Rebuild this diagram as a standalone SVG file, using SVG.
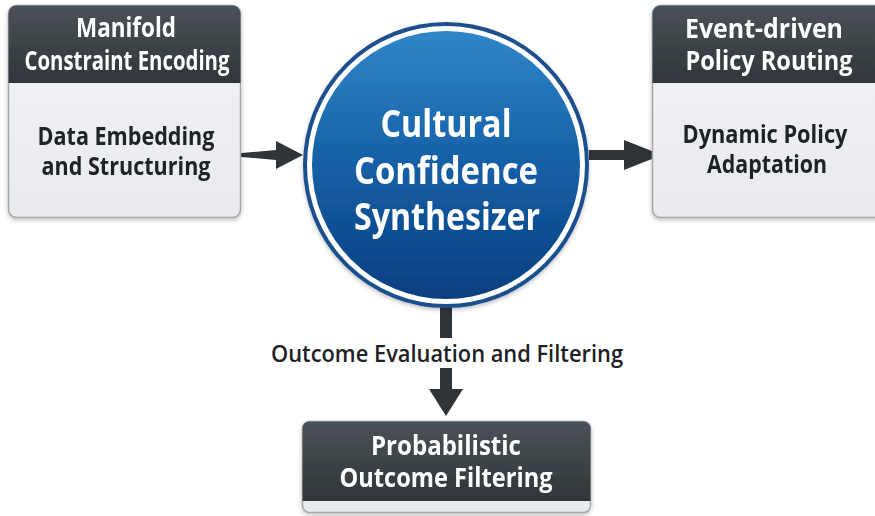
<svg xmlns="http://www.w3.org/2000/svg" width="875" height="516" viewBox="0 0 875 516">
  <defs>
    <linearGradient id="hdr" x1="0" y1="0" x2="0" y2="1">
      <stop offset="0" stop-color="#4a5257"/>
      <stop offset="1" stop-color="#2f3539"/>
    </linearGradient>
    <linearGradient id="body" x1="0" y1="0" x2="0" y2="1">
      <stop offset="0" stop-color="#f3f4f6"/>
      <stop offset="1" stop-color="#e8eaed"/>
    </linearGradient>
    <linearGradient id="orb" x1="0" y1="0" x2="0" y2="1">
      <stop offset="0" stop-color="#2f86c8"/>
      <stop offset="0.5" stop-color="#155fa6"/>
      <stop offset="1" stop-color="#0a3e7f"/>
    </linearGradient>
    <filter id="sh" x="-10%" y="-10%" width="120%" height="130%">
      <feDropShadow dx="0" dy="2" stdDeviation="2" flood-color="#000" flood-opacity="0.25"/>
    </filter>
  </defs>
  <style>
    text { font-family: "Liberation Sans Narrow", "Open Sans", "Liberation Sans", sans-serif; font-weight: bold; text-anchor: middle; }
    .hd { fill: #ffffff; font-size: 26px; }
    .bd { fill: #1e2226; font-size: 25px; }
    .ct { fill: #ffffff; font-size: 38px; }
    .lb { fill: #1e2226; font-size: 24px; font-weight: 600; }
    .frame { fill: url(#body); stroke: #a3a8ad; stroke-width: 1.5; }
    .head { fill: url(#hdr); }
    .wire { fill: #2f3438; }
  </style>
  <rect width="875" height="516" fill="#ffffff"/>

  <!-- connectors -->
  <g id="connectors">
    <polygon class="wire" points="218,155 276,150 276,141 303,155 276,169 276,160"/>
    <polygon class="wire" points="589,150 624,150 624,140 662,155 624,170 624,160 589,160"/>
    <rect class="wire" x="440" y="306" width="12" height="32"/>
    <rect class="wire" x="440" y="368" width="12" height="22"/>
    <polygon class="wire" points="429,389 463,389 446,416"/>
    <text class="lb" x="447" y="362" textLength="352" lengthAdjust="spacingAndGlyphs">Outcome Evaluation and Filtering</text>
  </g>

  <!-- left node -->
  <g id="node-manifold" filter="url(#sh)">
    <rect class="frame" x="8.5" y="5.5" width="232" height="212" rx="8"/>
    <path class="head" d="M8.5,13.5 a8,8 0 0 1 8,-8 h216 a8,8 0 0 1 8,8 V83 H8.5 Z"/>
    <text class="hd" x="126" y="37" textLength="100" lengthAdjust="spacingAndGlyphs">Manifold</text>
    <text class="hd" x="127" y="70" textLength="205" lengthAdjust="spacingAndGlyphs">Constraint Encoding</text>
    <text class="bd" x="126" y="145" textLength="177" lengthAdjust="spacingAndGlyphs">Data Embedding</text>
    <text class="bd" x="126" y="175" textLength="169" lengthAdjust="spacingAndGlyphs">and Structuring</text>
  </g>

  <!-- right node (runs past the right edge) -->
  <g id="node-routing" filter="url(#sh)">
    <rect class="frame" x="652.5" y="5.5" width="232" height="212" rx="8"/>
    <path class="head" d="M652.5,13.5 a8,8 0 0 1 8,-8 h216 a8,8 0 0 1 8,8 V83 H652.5 Z"/>
    <text class="hd" x="764" y="38" textLength="158" lengthAdjust="spacingAndGlyphs">Event-driven</text>
    <text class="hd" x="769" y="70" textLength="167" lengthAdjust="spacingAndGlyphs">Policy Routing</text>
    <text class="bd" x="765" y="143" textLength="165" lengthAdjust="spacingAndGlyphs">Dynamic Policy</text>
    <text class="bd" x="767" y="173" textLength="120" lengthAdjust="spacingAndGlyphs">Adaptation</text>
  </g>

  <!-- central node -->
  <g id="node-synthesizer" filter="url(#sh)">
    <circle cx="446" cy="165" r="141" fill="#ffffff" stroke="#1b4f8e" stroke-width="4"/>
    <circle cx="446" cy="165" r="134" fill="url(#orb)"/>
    <text class="ct" x="446" y="137" textLength="131" lengthAdjust="spacingAndGlyphs">Cultural</text>
    <text class="ct" x="446" y="184" textLength="184" lengthAdjust="spacingAndGlyphs">Confidence</text>
    <text class="ct" x="447" y="230" textLength="186" lengthAdjust="spacingAndGlyphs">Synthesizer</text>
  </g>

  <!-- bottom node -->
  <g id="node-filtering" filter="url(#sh)">
    <rect x="302.5" y="421.5" width="288" height="91" rx="7" fill="#e9ebee" stroke="#a3a8ad" stroke-width="1.5"/>
    <path class="head" d="M302.5,428.5 a7,7 0 0 1 7,-7 h274 a7,7 0 0 1 7,7 V501 H302.5 Z"/>
    <text class="hd" x="446" y="455" textLength="150" lengthAdjust="spacingAndGlyphs">Probabilistic</text>
    <text class="hd" x="446" y="487" textLength="213" lengthAdjust="spacingAndGlyphs">Outcome Filtering</text>
  </g>
</svg>
